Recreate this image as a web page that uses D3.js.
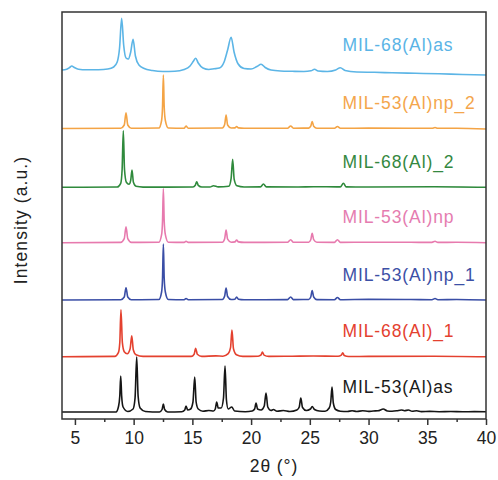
<!DOCTYPE html>
<html><head><meta charset="utf-8">
<script src="https://cdn.jsdelivr.net/npm/d3@7/dist/d3.min.js"></script>
<style>body{margin:0;background:#fff;}svg{display:block;}</style>
</head><body><svg id="c" width="498" height="480"></svg>
<script>
// ---- data ----
const seriesNames = ["MIL-68(Al)as","MIL-53(Al)np_2","MIL-68(Al)_2","MIL-53(Al)np","MIL-53(Al)np_1","MIL-68(Al)_1","MIL-53(Al)as"];
const seriesOffsets = [349, 290.5, 231.7, 176.3, 119, 62.3, 7];
const xTicks = [5,10,15,20,25,30,35,40];
const xMinorTicks = [7.5,12.5,17.5,22.5,27.5,32.5,37.5];

const mil68as = [[3.9,0],[4.3,0.8],[4.55,2.5],[4.73,4],[4.95,2.5],[5.3,0.8],[6,0.2],[7,0.3],[7.8,1],[8.3,3],[8.6,8],[8.8,22],[8.98,51.7],[9.15,25],[9.35,12],[9.55,11],[9.75,18],[9.95,30.7],[10.15,14],[10.45,5],[10.9,1.5],[11.6,-0.5],[12.5,-1.5],[13.5,-1.3],[14.3,0.5],[14.8,4],[15.1,9],[15.28,11.7],[15.5,7],[15.9,2],[16.4,0.5],[16.85,1.2],[17.3,2],[17.7,8],[18.0,20],[18.3,32.7],[18.55,18],[18.9,6],[19.4,1.5],[20.0,1],[20.5,3.5],[20.85,5.7],[21.2,2.5],[21.7,0],[22.5,-1],[23.5,-1.3],[24.5,-1.5],[25.1,-0.8],[25.4,0.7],[25.7,-1],[26.5,-1.5],[27.2,0],[27.6,2.3],[28.0,-0.5],[29,-2],[30.5,-2.3],[32,-2.8],[34,-3.3],[36,-3.8],[38,-4.5],[40,-5]];
const mil53np2 = [[3.9,0],[8.9,0.3],[9.2,3.5],[9.35,15.8],[9.5,3.5],[9.8,0.3],[12.15,0.5],[12.38,8],[12.46,22],[12.53,53.5],[12.6,22],[12.7,8],[12.95,0.5],[14.3,0.3],[14.46,2.5],[14.65,0.3],[17.55,0.5],[17.75,4],[17.87,13.5],[18.0,3.5],[18.3,0.5],[18.62,0.6],[18.77,2],[18.92,0.6],[19.4,0.3],[23.1,0.3],[23.37,2.5],[23.6,0.3],[24.9,0.4],[25.08,2.3],[25.2,7],[25.33,2.3],[25.6,0.3],[27.1,0.2],[27.35,2],[27.6,0.2],[30,0.4],[33.6,0.3],[35.4,0.2],[35.66,1],[35.9,0.2],[37.5,0.3],[40,-0.5]];
const mil68_2 = [[3.9,0],[8.6,0.3],[8.9,4],[9.02,18],[9.12,56.6],[9.22,18],[9.38,5],[9.6,3],[9.75,7],[9.86,17.3],[9.98,5],[10.2,1],[10.8,0.2],[15.05,0.3],[15.25,2],[15.37,5.6],[15.5,2],[15.8,0.3],[16.5,0.3],[16.8,1.6],[17.2,0.4],[18.1,1],[18.3,9],[18.43,28],[18.56,8],[18.8,1.5],[19.4,0.3],[20.8,0.4],[21.05,3.3],[21.3,0.4],[24,0.3],[25.3,0.6],[27.6,0.4],[27.86,4],[28.1,0.4],[30,0.3],[35.6,0.5],[40,0]];
const mil53np = [[3.9,0],[8.9,0.3],[9.2,4],[9.35,16],[9.5,4],[9.8,0.3],[12.15,0.5],[12.38,8],[12.46,22],[12.53,54],[12.6,22],[12.7,8],[12.95,0.5],[14.3,0.3],[14.46,1.5],[14.65,0.3],[17.55,0.5],[17.75,4],[17.87,12.7],[18.0,3.5],[18.3,0.5],[18.62,0.8],[18.77,2.7],[18.92,0.8],[19.4,0.3],[23.1,0.4],[23.37,3],[23.6,0.4],[24.9,0.5],[25.08,3],[25.2,9.4],[25.33,3],[25.6,0.4],[27.1,0.3],[27.35,3],[27.6,0.3],[30,0.5],[33.6,0.4],[35.4,0.3],[35.66,1.5],[35.9,0.3],[37.5,0.4],[40,0]];
const mil53np1 = [[3.9,0],[8.9,0.3],[9.2,3],[9.35,12.3],[9.5,3],[9.8,0.3],[12.15,0.5],[12.38,8],[12.46,22],[12.53,56],[12.6,22],[12.7,8],[12.95,0.5],[14.3,0.3],[14.46,1.5],[14.65,0.3],[17.55,0.5],[17.75,4],[17.87,12],[18.0,3.5],[18.3,0.5],[18.62,0.8],[18.77,3],[18.92,0.8],[19.4,0.3],[23.1,0.4],[23.37,3],[23.6,0.4],[24.9,0.5],[25.08,3],[25.2,9.5],[25.33,3],[25.6,0.4],[27.1,0.3],[27.35,2.5],[27.6,0.3],[30,0.6],[33.6,0.5],[35.4,0.3],[35.66,1.5],[35.9,0.3],[37.5,0.5],[40,0]];
const mil68_1 = [[3.9,0],[8.4,0.3],[8.7,4],[8.82,14],[8.92,47],[9.04,14],[9.2,5],[9.45,3],[9.7,8],[9.84,21],[9.97,7],[10.2,2],[10.8,0.3],[14.9,0.3],[15.15,2.5],[15.28,8.4],[15.42,2.5],[15.8,0.3],[17.0,0.8],[17.6,0.5],[18.05,3],[18.25,9],[18.37,26.7],[18.5,8],[18.75,2],[19.3,0.3],[20.6,0.5],[20.85,1.8],[20.96,4.7],[21.1,1.6],[21.5,0.3],[23.5,0.5],[25.3,0.7],[27.4,0.4],[27.68,1.5],[27.8,4],[27.93,1.2],[28.3,0.2],[30,0.3],[35.6,0.5],[40,0]];
const mil53as = [[3.9,0],[8.5,0],[8.72,6],[8.82,16],[8.9,36],[8.98,16],[9.1,5],[9.5,0.5],[9.95,3],[10.12,14],[10.26,55],[10.38,16],[10.55,4],[11,0.5],[12.2,0],[12.42,2.5],[12.53,8],[12.64,2.5],[12.9,0],[14.1,0.3],[14.35,2],[14.46,6],[14.6,2],[14.85,3],[15.05,10],[15.2,35],[15.32,10],[15.5,3],[15.9,0.8],[16.4,1.5],[16.8,1],[16.95,3],[17.07,10],[17.2,4],[17.45,4],[17.65,14],[17.78,46],[17.9,12],[18.05,3],[18.35,5],[18.6,1],[19.5,0.3],[20.1,1],[20.3,3],[20.42,9],[20.55,3],[20.85,2],[21.12,6],[21.27,19],[21.42,5],[21.7,1.5],[21.9,2.5],[22.2,0.8],[22.75,1.5],[23.3,0.5],[23.9,2],[24.1,5],[24.23,14],[24.38,4.5],[24.7,1.5],[25.05,3],[25.2,5.5],[25.4,2.5],[25.8,1],[26.3,0.8],[26.65,4],[26.78,10],[26.89,25],[27.0,9],[27.2,2.5],[27.6,0.8],[28.2,0.5],[28.6,1.2],[29.0,0.5],[29.5,1.3],[30.0,0.6],[30.4,1],[30.8,1.2],[31.26,3],[31.6,1],[32.0,0.8],[32.4,1.2],[32.8,2],[33.05,1.3],[33.4,2],[33.7,0.8],[34.1,1.3],[34.5,0.4],[35.2,0.6],[36,0.3],[37,0.5],[38,0.2],[39,0.4],[40,0.2]];
const seriesData = [mil68as, mil53np2, mil68_2, mil53np, mil53np1, mil68_1, mil53as];
const lineColors = ["#5cb5e6","#f4a445","#2f8a3c","#e77aae","#3a4ea6","#e4412f","#151515"];
const labelColors = ["#5ab4e6","#f4a64c","#34883f","#e57cb0","#3c50a6","#e4412f","#1a1a1a"];

// ---- layout ----
const L = 62, R = 486, T = 12, B = 419;
const svg = d3.select("#c");
const x = d3.scaleLinear().domain([3.9, 40]).range([L, R]);
const y = d3.scaleLinear().domain([0, 407]).range([B, T]);
const font = "'Liberation Sans', Arial, sans-serif";

svg.append("defs").append("clipPath").attr("id","clip")
  .append("rect").attr("x",L).attr("y",T).attr("width",R-L).attr("height",B-T);

const g = svg.append("g").attr("clip-path","url(#clip)");
seriesData.forEach((d,i)=>{
  const off = seriesOffsets[i];
  const line = d3.line().x(p=>x(p[0])).y(p=>y(p[1]+off)).curve(d3.curveMonotoneX);
  g.append("path").attr("d", line(d)).attr("fill","none")
    .attr("stroke", lineColors[i]).attr("stroke-width",1.6).attr("stroke-linejoin","round");
});

// labels
seriesNames.forEach((n,i)=>{
  svg.append("text").attr("x",342.5).attr("y", y(seriesOffsets[i]) - 19.5)
    .attr("font-family",font).attr("font-size",17.5).attr("letter-spacing",0.9)
    .attr("fill",labelColors[i]).text(n);
});

// frame
svg.append("rect").attr("x",L).attr("y",T).attr("width",R-L).attr("height",B-T)
  .attr("fill","none").attr("stroke","#333").attr("stroke-width",1.5);

// x axis
const ax = svg.append("g").attr("transform",`translate(0,${B})`)
  .call(d3.axisBottom(x).tickValues(xTicks).tickSize(6).tickPadding(7).tickFormat(d3.format("d")));
ax.select(".domain").remove();
ax.selectAll("line").attr("stroke","#333").attr("stroke-width",1.5);
ax.selectAll("text").attr("font-family",font).attr("font-size",17.5).attr("fill","#222");
const axm = svg.append("g").attr("transform",`translate(0,${B})`)
  .call(d3.axisBottom(x).tickValues(xMinorTicks).tickSize(3).tickFormat(""));
axm.select(".domain").remove();
axm.selectAll("line").attr("stroke","#333").attr("stroke-width",1.5);

// axis titles
svg.append("text").attr("x",(L+R)/2).attr("y",472).attr("text-anchor","middle")
  .attr("font-family",font).attr("font-size",17.5).attr("letter-spacing",0.9).attr("fill","#222").text("2θ (°)");
svg.append("text").attr("transform","translate(27,220) rotate(-90)").attr("text-anchor","middle")
  .attr("font-family",font).attr("font-size",17.5).attr("letter-spacing",1.1).attr("fill","#222").text("Intensity (a.u.)");
</script></body></html>
